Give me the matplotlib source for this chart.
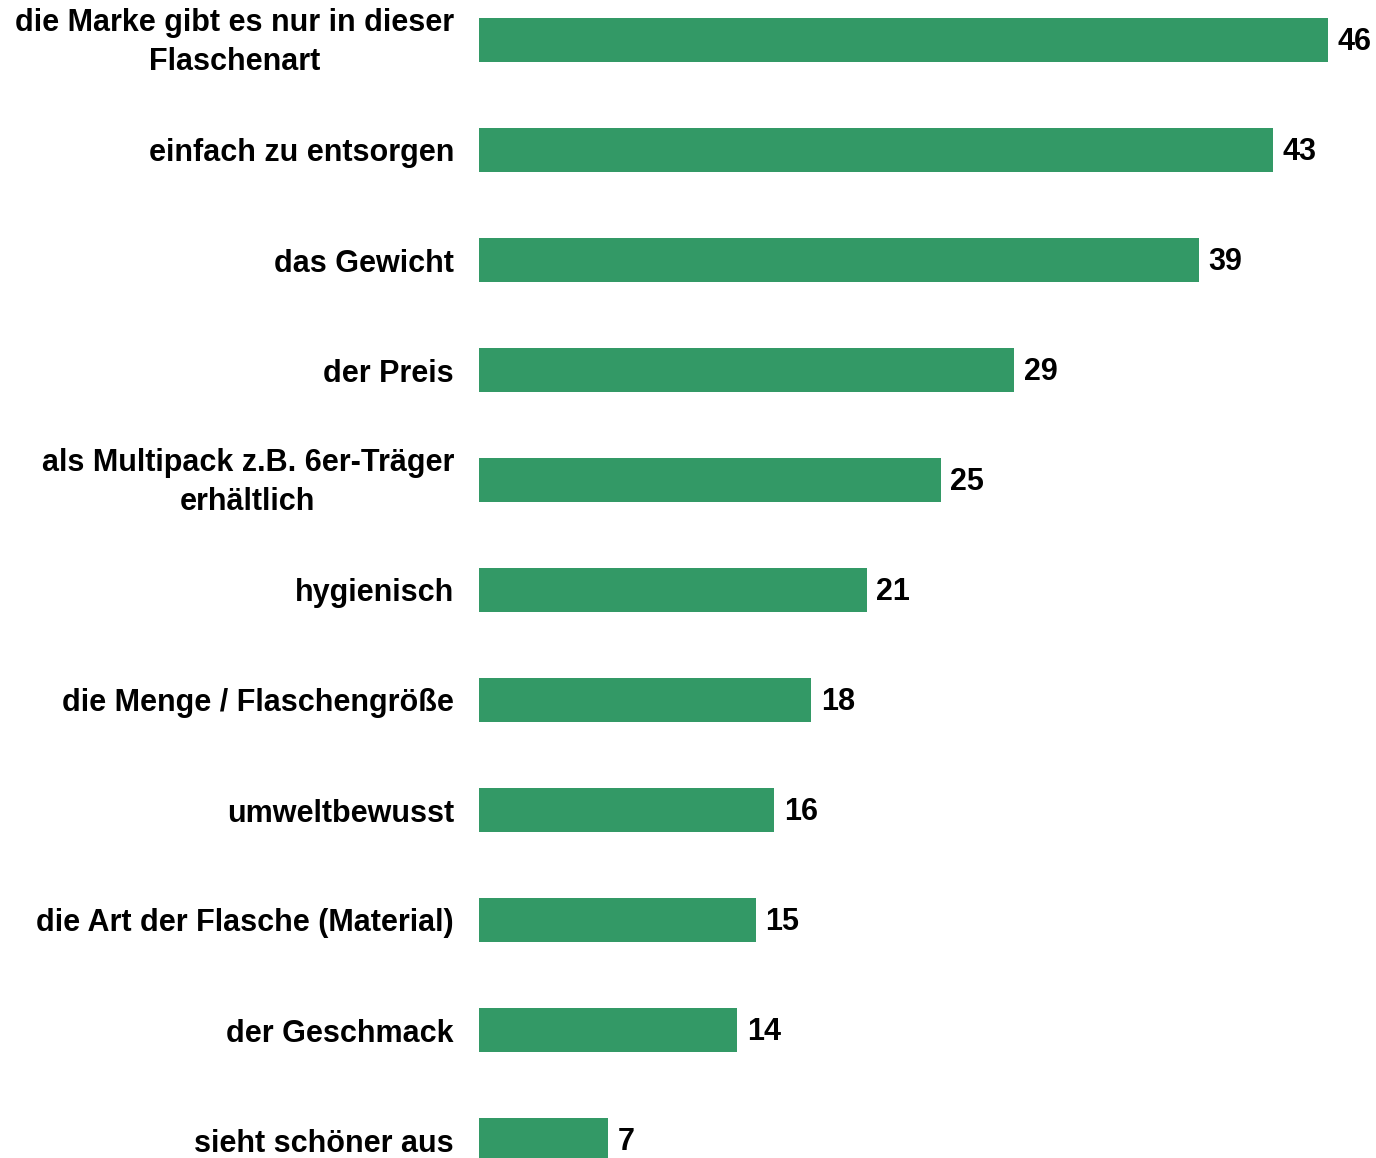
import matplotlib.pyplot as plt
from matplotlib.transforms import ScaledTranslation

categories = [
    "die Marke gibt es nur in dieser\nFlaschenart",
    "einfach zu entsorgen",
    "das Gewicht",
    "der Preis",
    "als Multipack z.B. 6er-Träger\nerhältlich",
    "hygienisch",
    "die Menge / Flaschengröße",
    "umweltbewusst",
    "die Art der Flasche (Material)",
    "der Geschmack",
    "sieht schöner aus",
]
values = [46, 43, 39, 29, 25, 21, 18, 16, 15, 14, 7]

plt.rcParams['font.family'] = ['Liberation Sans', 'DejaVu Sans']

fig = plt.figure(figsize=(13.76, 11.58), dpi=100)
W, H = 1376, 1158
ax = fig.add_axes([479 / W, 0, (W - 479) / W, 1])

pos = list(range(len(categories)))
ax.barh(pos, values, height=0.4, color='#339966')

ax.set_xlim(0, (W - 479) / 18.46)
ax.set_ylim(10 + 18 / 110, -40 / 110)

ax.set_yticks(pos)
ax.set_yticklabels(categories, fontsize=22, fontweight='bold',
                   multialignment='center', linespacing=1.4)
ax.tick_params(axis='y', length=0, pad=18)
ax.set_xticks([])
for s in ax.spines.values():
    s.set_visible(False)

# two-line labels sit a bit higher in the original
for lab in ax.get_yticklabels():
    if '\n' in lab.get_text():
        lab.set_transform(lab.get_transform() + ScaledTranslation(0, 0.055, fig.dpi_scale_trans))

for p, v in zip(pos, values):
    ax.annotate(str(v), (v, p), xytext=(7, -1.5), textcoords='offset points',
                ha='left', va='center', fontsize=22, fontweight='bold')

fig.savefig('out.png', dpi=100)
